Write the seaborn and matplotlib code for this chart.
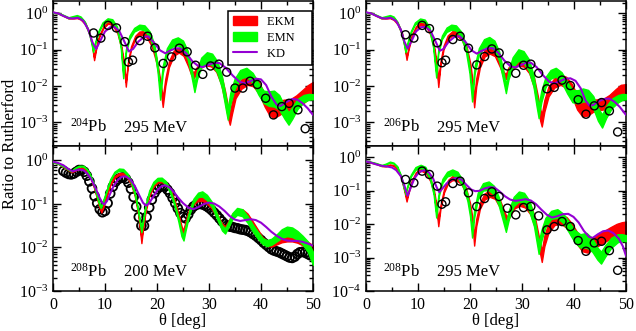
import numpy as np
import matplotlib
matplotlib.use("Agg")
import matplotlib.pyplot as plt
import seaborn as sns
from matplotlib.patches import Patch
from matplotlib.lines import Line2D
from matplotlib.ticker import LogLocator, MultipleLocator, NullFormatter, LogFormatterSciNotation

# ---------------- data (log10 of ratio to Rutherford) ----------------
# 204Pb 295 MeV (top left)
tl_ekm_theta = [0, 1, 2, 3, 4, 4.6, 5.3, 6.2, 7.0, 7.5, 7.9, 8.3, 8.9, 9.7, 10.6, 11.5, 12.4, 13.1, 13.6, 14.0,
                14.4, 15.0, 15.8, 16.6, 17.3, 18.1, 19.0, 19.9, 20.6, 21.1, 21.6, 22.3, 23.2, 24.2, 25.1, 26.0,
                26.6, 27.0, 27.5, 28.3, 29.3, 30.4, 31.4, 32.3, 33.1, 33.6, 34.0, 34.4, 35.1, 36.2, 37.4, 38.5,
                39.6, 40.7, 41.6, 42.4, 43.3, 44.4, 45.6, 46.8, 48.0, 49.0, 50.0]
tl_ekm_mid = [0.03, 0.01, -0.06, -0.13, -0.13, -0.12, -0.15, -0.28, -0.55, -0.85, -1.25, -0.95, -0.62, -0.38,
              -0.25, -0.30, -0.52, -0.90, -1.35, -1.95, -1.40, -0.95, -0.66, -0.55, -0.54, -0.62, -0.85, -1.30,
              -1.90, -2.45, -1.90, -1.40, -1.10, -1.01, -1.09, -1.38, -1.62, -1.72, -1.60, -1.42, -1.33, -1.34,
              -1.48, -1.80, -2.30, -2.70, -2.90, -2.62, -2.20, -1.95, -1.83, -1.86, -2.05, -2.40, -2.60, -2.66,
              -2.62, -2.55, -2.52, -2.43, -2.30, -2.18, -2.10]
tl_ekm_half = [0.01, 0.01, 0.01, 0.01, 0.01, 0.01, 0.015, 0.02, 0.025, 0.03, 0.04, 0.03, 0.025, 0.025, 0.03,
               0.03, 0.035, 0.04, 0.05, 0.07, 0.05, 0.04, 0.04, 0.05, 0.05, 0.06, 0.06, 0.07, 0.09, 0.13, 0.10,
               0.08, 0.07, 0.07, 0.08, 0.08, 0.08, 0.08, 0.08, 0.09, 0.10, 0.12, 0.13, 0.14, 0.15, 0.16, 0.17,
               0.16, 0.14, 0.13, 0.14, 0.15, 0.16, 0.17, 0.20, 0.22, 0.20, 0.17, 0.15, 0.17, 0.19, 0.20, 0.21]
tl_emn_theta = [0, 1, 2, 3, 3.8, 4.6, 5.3, 6.1, 6.9, 7.4, 7.7, 8.1, 8.7, 9.5, 10.5, 11.4, 12.3, 13.0, 13.5,
                14.0, 14.7, 15.6, 16.6, 17.6, 18.6, 19.5, 20.1, 20.6, 21.1, 21.9, 22.9, 24.0, 25.0, 25.9, 26.6,
                27.2, 27.7, 28.5, 29.6, 30.6, 31.6, 32.5, 33.2, 33.6, 34.1, 34.9, 36.0, 37.2, 38.4, 39.5, 40.5,
                41.5, 42.5, 43.5, 44.5, 45.3, 46.0, 47.0, 48.2, 49.2, 50.0]
tl_emn_mid = [0.03, 0.01, -0.05, -0.12, -0.09, -0.06, -0.10, -0.24, -0.52, -0.80, -1.03, -0.82, -0.52, -0.28,
              -0.17, -0.20, -0.40, -0.85, -1.72, -1.05, -0.66, -0.45, -0.37, -0.40, -0.58, -0.95, -1.50, -2.25,
              -1.55, -1.05, -0.82, -0.77, -0.87, -1.15, -1.60, -2.05, -1.70, -1.35, -1.22, -1.27, -1.48, -1.90,
              -2.45, -2.78, -2.35, -1.95, -1.68, -1.62, -1.78, -2.08, -2.30, -2.35, -2.35, -2.45, -2.72, -2.90,
              -2.75, -2.50, -2.35, -2.30, -2.30]
tl_emn_half = [0.01, 0.01, 0.01, 0.015, 0.015, 0.015, 0.015, 0.02, 0.025, 0.03, 0.035, 0.03, 0.025, 0.03,
               0.035, 0.04, 0.04, 0.05, 0.07, 0.05, 0.05, 0.05, 0.06, 0.07, 0.08, 0.09, 0.10, 0.13, 0.10, 0.09,
               0.10, 0.11, 0.12, 0.12, 0.12, 0.12, 0.12, 0.13, 0.15, 0.16, 0.16, 0.16, 0.17, 0.15, 0.16, 0.14,
               0.12, 0.12, 0.14, 0.16, 0.17, 0.20, 0.22, 0.20, 0.18, 0.17, 0.16, 0.14, 0.10, 0.08, 0.07]
tl_kd_theta = [0, 1, 2, 3, 3.8, 4.8, 5.8, 6.8, 7.6, 8.3, 9.0, 10.0, 11.0, 11.8, 12.8, 13.8, 14.6, 15.4, 16.4,
               17.4, 18.3, 19.4, 20.6, 21.6, 22.6, 23.6, 24.5, 25.6, 26.8, 28.0, 28.8, 29.8, 31.0, 32.0, 33.2,
               34.6, 35.8, 36.8, 37.8, 39.0, 40.0, 41.0, 42.0, 43.0, 43.8, 44.8, 46.0, 47.0, 48.0, 49.0, 50.0]
tl_kd_val = [0.03, 0.0, -0.07, -0.13, -0.14, -0.12, -0.20, -0.45, -0.80, -0.98, -0.78, -0.50, -0.38, -0.37,
             -0.50, -0.80, -1.05, -0.98, -0.78, -0.66, -0.63, -0.80, -1.02, -1.10, -1.02, -0.96, -0.97, -1.10,
             -1.32, -1.46, -1.48, -1.42, -1.36, -1.37, -1.50, -1.72, -1.88, -1.93, -1.88, -1.80, -1.82, -1.98,
             -2.30, -2.52, -2.55, -2.45, -2.36, -2.38, -2.48, -2.62, -2.80]
tl_data_theta = [7.8, 9.2, 10.6, 12.2, 13.8, 14.5, 15.3, 16.7, 18.2, 19.6, 21.2, 22.8, 24.3, 25.8, 27.4, 28.8,
                 30.3, 31.9, 33.4, 35.0, 36.5, 37.9, 39.3, 40.9, 42.4, 44.0, 45.4, 47.1, 48.5]
tl_data_val = [-0.54, -0.68, -0.33, -0.40, -0.78, -1.34, -1.29, -0.75, -0.63, -0.95, -1.38, -1.20, -0.96,
               -1.06, -1.43, -1.68, -1.45, -1.40, -1.62, -2.06, -2.06, -1.87, -1.96, -2.34, -2.80, -2.57, -2.48,
               -2.66, -3.18]

# 206Pb 295 MeV (top right)
tr_ekm_theta = [0, 1, 2, 3, 4, 4.6, 5.3, 6.1, 6.9, 7.4, 7.8, 8.2, 8.8, 9.6, 10.6, 11.5, 12.4, 13.1, 13.6, 13.9,
                14.3, 14.9, 15.7, 16.6, 17.5, 18.4, 19.3, 20.1, 20.5, 20.8, 21.2, 21.9, 22.8, 23.8, 24.8, 25.8,
                26.5, 26.9, 27.4, 28.3, 29.3, 30.4, 31.4, 32.3, 33.0, 33.5, 33.8, 34.3, 35.1, 36.2, 37.4, 38.5,
                39.6, 40.6, 41.6, 42.6, 43.6, 44.6, 45.7, 46.8, 48.0, 49.0, 50.0]
tr_ekm_mid = [0.03, 0.01, -0.06, -0.13, -0.13, -0.12, -0.16, -0.28, -0.55, -0.88, -1.24, -0.95, -0.62, -0.38,
              -0.27, -0.31, -0.55, -0.95, -1.45, -1.95, -1.40, -0.95, -0.66, -0.55, -0.55, -0.66, -0.95, -1.50,
              -2.00, -2.45, -1.90, -1.40, -1.10, -1.02, -1.08, -1.40, -1.70, -1.74, -1.58, -1.40, -1.33, -1.35,
              -1.52, -1.90, -2.40, -2.80, -2.95, -2.55, -2.15, -1.92, -1.83, -1.90, -2.12, -2.45, -2.62, -2.62,
              -2.55, -2.52, -2.50, -2.42, -2.28, -2.17, -2.12]
tr_ekm_half = [0.01, 0.01, 0.01, 0.01, 0.01, 0.01, 0.015, 0.02, 0.025, 0.03, 0.04, 0.03, 0.025, 0.025, 0.04,
               0.04, 0.04, 0.05, 0.06, 0.08, 0.06, 0.05, 0.05, 0.06, 0.07, 0.07, 0.07, 0.09, 0.11, 0.14, 0.11,
               0.09, 0.09, 0.09, 0.10, 0.09, 0.08, 0.07, 0.09, 0.10, 0.11, 0.12, 0.13, 0.14, 0.15, 0.16, 0.17,
               0.16, 0.14, 0.13, 0.14, 0.15, 0.17, 0.20, 0.22, 0.20, 0.17, 0.15, 0.15, 0.17, 0.19, 0.20, 0.17]
tr_emn_theta = [0, 1, 2, 3, 3.8, 4.6, 5.3, 6.0, 6.8, 7.3, 7.6, 8.0, 8.6, 9.4, 10.4, 11.3, 12.2, 12.9, 13.5,
                13.9, 14.6, 15.5, 16.4, 17.3, 18.3, 19.2, 19.9, 20.4, 20.9, 21.7, 22.7, 23.7, 24.7, 25.6, 26.3,
                26.9, 27.4, 28.2, 29.3, 30.3, 31.3, 32.2, 32.8, 33.2, 33.7, 34.5, 35.5, 36.5, 37.6, 38.7, 39.7,
                40.7, 41.7, 42.7, 43.7, 44.6, 45.4, 46.2, 47.3, 48.5, 49.4, 50.0]
tr_emn_mid = [0.03, 0.01, -0.05, -0.12, -0.09, -0.06, -0.10, -0.24, -0.52, -0.82, -1.04, -0.82, -0.52, -0.28,
              -0.18, -0.21, -0.42, -0.88, -1.70, -1.05, -0.66, -0.45, -0.38, -0.40, -0.58, -0.95, -1.55, -2.30,
              -1.55, -1.05, -0.82, -0.78, -0.88, -1.18, -1.65, -2.08, -1.70, -1.35, -1.15, -1.20, -1.42, -1.85,
              -2.40, -2.72, -2.30, -1.90, -1.68, -1.62, -1.76, -2.05, -2.28, -2.30, -2.25, -2.27, -2.45, -2.78,
              -2.97, -2.72, -2.48, -2.35, -2.30, -2.30]
tr_emn_half = [0.01, 0.01, 0.01, 0.015, 0.015, 0.015, 0.015, 0.02, 0.025, 0.03, 0.035, 0.03, 0.025, 0.03,
               0.04, 0.04, 0.045, 0.05, 0.07, 0.05, 0.05, 0.06, 0.07, 0.07, 0.08, 0.09, 0.10, 0.13, 0.10, 0.09,
               0.11, 0.13, 0.13, 0.13, 0.13, 0.12, 0.12, 0.14, 0.16, 0.16, 0.16, 0.16, 0.16, 0.17, 0.16, 0.14,
               0.12, 0.12, 0.14, 0.16, 0.17, 0.18, 0.18, 0.16, 0.17, 0.18, 0.18, 0.16, 0.13, 0.10, 0.08, 0.07]
tr_kd_theta = [0, 1, 2, 3, 3.8, 4.8, 5.8, 6.7, 7.4, 8.0, 8.7, 9.6, 10.6, 11.4, 12.4, 13.4, 14.2, 14.9, 15.9,
               17.0, 18.0, 19.1, 20.3, 21.3, 22.3, 23.4, 24.4, 25.4, 26.6, 27.8, 28.7, 29.7, 30.8, 31.7, 32.8,
               34.0, 35.2, 36.2, 37.3, 38.4, 39.3, 40.3, 41.3, 42.2, 43.0, 43.8, 44.8, 45.8, 46.8, 47.8, 48.8,
               50.0]
tr_kd_val = [0.03, 0.0, -0.07, -0.13, -0.14, -0.12, -0.21, -0.45, -0.78, -0.97, -0.78, -0.50, -0.38, -0.37,
             -0.48, -0.78, -1.03, -0.98, -0.78, -0.65, -0.63, -0.78, -1.02, -1.11, -1.03, -0.96, -0.96, -1.08,
             -1.30, -1.46, -1.49, -1.43, -1.36, -1.36, -1.48, -1.70, -1.88, -1.93, -1.87, -1.80, -1.79, -1.86,
             -2.07, -2.40, -2.55, -2.52, -2.42, -2.36, -2.35, -2.44, -2.58, -2.80]
tr_data_theta = [7.6, 9.2, 10.8, 12.2, 13.7, 14.6, 15.3, 16.7, 18.1, 19.7, 21.3, 22.8, 24.2, 25.6, 27.2, 28.8,
                 30.3, 31.7, 33.2, 34.8, 36.2, 37.7, 39.3, 40.8, 42.3, 43.9, 45.3, 46.8, 48.4]
tr_data_val = [-0.59, -0.68, -0.33, -0.42, -0.81, -1.36, -1.29, -0.72, -0.63, -0.96, -1.42, -1.19, -0.98,
               -1.09, -1.45, -1.65, -1.43, -1.40, -1.65, -2.08, -2.04, -1.84, -1.99, -2.38, -2.78, -2.55, -2.46,
               -2.69, -3.27]

# 208Pb 200 MeV (bottom left)
bl_ekm_theta = [0, 1, 2, 3, 3.6, 4.3, 5.0, 5.8, 6.5, 7.1, 7.8, 8.4, 8.9, 9.3, 9.7, 10.3, 11.0, 11.8, 12.7, 13.5,
                14.3, 15.0, 15.7, 16.3, 16.7, 17.0, 17.3, 17.8, 18.5, 19.3, 20.2, 21.0, 21.8, 22.6, 23.4, 24.2,
                24.7, 25.0, 25.4, 26.0, 26.8, 27.7, 28.6, 29.5, 30.5, 31.5, 32.4, 33.1, 33.7, 34.5, 35.4, 36.4,
                37.4, 38.4, 39.4, 40.3, 41.1, 42.0, 43.0, 44.0, 45.0, 46.0, 47.0, 48.0, 49.0, 50.0]
bl_ekm_mid = [-0.03, -0.07, -0.14, -0.22, -0.26, -0.22, -0.18, -0.17, -0.24, -0.36, -0.58, -0.83, -1.05, -1.17,
              -1.05, -0.82, -0.55, -0.38, -0.31, -0.31, -0.38, -0.52, -0.78, -1.15, -1.50, -1.85, -1.55, -1.15,
              -0.80, -0.58, -0.48, -0.47, -0.54, -0.70, -0.95, -1.30, -1.55, -1.66, -1.50, -1.22, -1.00, -0.90,
              -0.88, -0.93, -1.05, -1.25, -1.48, -1.56, -1.45, -1.27, -1.17, -1.17, -1.27, -1.45, -1.65, -1.82,
              -1.90, -1.92, -1.87, -1.82, -1.80, -1.80, -1.83, -1.88, -1.95, -2.05]
bl_ekm_half = [0.01, 0.01, 0.01, 0.01, 0.01, 0.01, 0.01, 0.01, 0.01, 0.015, 0.015, 0.02, 0.02, 0.025, 0.02,
               0.02, 0.02, 0.02, 0.02, 0.02, 0.02, 0.02, 0.025, 0.03, 0.04, 0.05, 0.04, 0.03, 0.025, 0.025,
               0.025, 0.03, 0.03, 0.03, 0.035, 0.04, 0.05, 0.05, 0.05, 0.04, 0.04, 0.04, 0.045, 0.05, 0.05,
               0.05, 0.05, 0.05, 0.05, 0.05, 0.05, 0.05, 0.05, 0.05, 0.06, 0.06, 0.06, 0.06, 0.06, 0.06, 0.06,
               0.06, 0.06, 0.07, 0.08, 0.10]
bl_emn_theta = [0, 1, 2, 3, 3.6, 4.3, 5.0, 5.8, 6.5, 7.1, 7.8, 8.4, 8.9, 9.2, 9.6, 10.3, 11.0, 11.8, 12.7, 13.5,
                14.3, 15.0, 15.7, 16.3, 16.7, 17.0, 17.3, 17.8, 18.5, 19.3, 20.1, 20.9, 21.7, 22.5, 23.3, 24.1,
                24.7, 25.1, 25.5, 26.2, 27.0, 27.9, 28.7, 29.6, 30.6, 31.6, 32.5, 33.1, 33.7, 34.5, 35.4, 36.4,
                37.4, 38.4, 39.4, 40.3, 41.1, 42.0, 43.0, 44.0, 45.0, 46.0, 47.0, 48.0, 49.0, 50.0]
bl_emn_mid = [-0.03, -0.07, -0.13, -0.21, -0.24, -0.17, -0.13, -0.13, -0.20, -0.32, -0.54, -0.80, -1.00, -1.07,
              -0.95, -0.70, -0.45, -0.28, -0.21, -0.22, -0.32, -0.48, -0.75, -1.10, -1.40, -1.60, -1.40, -1.05,
              -0.72, -0.52, -0.43, -0.43, -0.51, -0.70, -0.98, -1.35, -1.68, -1.78, -1.55, -1.20, -0.93, -0.79,
              -0.77, -0.85, -1.02, -1.30, -1.55, -1.62, -1.48, -1.28, -1.17, -1.20, -1.35, -1.55, -1.72, -1.85,
              -1.90, -1.87, -1.78, -1.68, -1.63, -1.65, -1.72, -1.83, -1.98, -2.25]
bl_emn_half = [0.01, 0.01, 0.01, 0.01, 0.01, 0.01, 0.01, 0.01, 0.01, 0.015, 0.015, 0.02, 0.02, 0.025, 0.02,
               0.02, 0.02, 0.02, 0.025, 0.025, 0.025, 0.025, 0.025, 0.03, 0.04, 0.05, 0.04, 0.03, 0.03, 0.03,
               0.03, 0.035, 0.035, 0.035, 0.04, 0.05, 0.06, 0.06, 0.06, 0.05, 0.05, 0.05, 0.06, 0.06, 0.06,
               0.06, 0.06, 0.06, 0.06, 0.07, 0.08, 0.08, 0.08, 0.08, 0.08, 0.07, 0.07, 0.07, 0.08, 0.10, 0.11,
               0.11, 0.10, 0.10, 0.12, 0.15]
bl_kd_theta = [0, 1, 2, 3, 3.8, 4.8, 5.8, 6.6, 7.4, 8.2, 8.9, 9.5, 9.9, 10.4, 11.0, 11.7, 12.5, 13.3, 14.1,
               14.9, 15.7, 16.5, 17.3, 17.9, 18.5, 19.3, 20.1, 20.9, 21.6, 22.4, 23.2, 24.1, 25.0, 26.0, 27.0,
               28.0, 29.0, 30.0, 31.0, 32.0, 33.0, 34.0, 35.0, 36.0, 37.0, 38.0, 39.0, 40.0, 41.0, 42.0, 43.0,
               44.0, 45.0, 46.0, 47.0, 48.0, 49.0, 50.0]
bl_kd_val = [-0.03, -0.06, -0.11, -0.20, -0.25, -0.21, -0.22, -0.30, -0.44, -0.64, -0.84, -0.98, -1.01, -0.93,
             -0.76, -0.58, -0.44, -0.37, -0.37, -0.44, -0.58, -0.78, -0.97, -1.04, -0.98, -0.83, -0.68, -0.59,
             -0.57, -0.62, -0.72, -0.86, -0.98, -1.08, -1.12, -1.07, -1.00, -0.97, -0.99, -1.06, -1.16, -1.28,
             -1.36, -1.39, -1.37, -1.35, -1.37, -1.43, -1.53, -1.64, -1.73, -1.80, -1.84, -1.85, -1.85, -1.87,
             -1.91, -1.96]
bl_data_theta = [2.0, 2.5, 3.0, 3.5, 4.0, 4.5, 5.0, 5.5, 6.0, 6.5, 7.0, 7.5, 8.0, 8.5, 9.0, 9.5, 10.0, 10.5,
                 11.0, 11.5, 12.0, 12.5, 13.0, 13.5, 14.0, 14.5, 15.0, 15.5, 16.0, 16.5, 17.0, 17.5, 18.0, 18.5,
                 19.0, 19.5, 20.0, 20.5, 21.0, 21.5, 22.0, 22.5, 23.0, 23.5, 24.0, 24.5, 25.0, 25.5, 26.0, 26.5,
                 27.0, 27.5, 28.0, 28.5, 29.0, 29.5, 30.0, 30.5, 31.0, 31.5, 32.0, 32.5, 33.0, 33.5, 34.0, 34.5,
                 35.0, 35.5, 36.0, 36.5, 37.0, 37.5, 38.0, 38.5, 39.0, 39.5, 40.0, 40.5, 41.0, 41.5, 42.0, 42.5,
                 43.0, 43.5, 44.0, 44.5, 45.0, 45.5, 46.0, 46.5, 47.0, 47.5, 48.0, 48.5, 49.0, 49.5, 50.0]
bl_data_val = [-0.24, -0.28, -0.31, -0.32, -0.30, -0.26, -0.22, -0.22, -0.26, -0.35, -0.48, -0.64, -0.82, -0.98,
               -1.12, -1.19, -1.16, -0.98, -0.76, -0.60, -0.49, -0.43, -0.40, -0.39, -0.42, -0.51, -0.65, -0.84,
               -1.06, -1.30, -1.50, -1.50, -1.30, -1.08, -0.90, -0.75, -0.66, -0.61, -0.59, -0.60, -0.67, -0.75,
               -0.86, -0.98, -1.10, -1.21, -1.30, -1.33, -1.24, -1.13, -1.06, -1.02, -1.00, -1.00, -1.02, -1.05,
               -1.09, -1.14, -1.20, -1.26, -1.33, -1.40, -1.46, -1.50, -1.52, -1.53, -1.55, -1.56, -1.58, -1.59,
               -1.60, -1.62, -1.65, -1.69, -1.73, -1.78, -1.83, -1.89, -1.94, -1.99, -2.04, -2.07, -2.09, -2.11,
               -2.14, -2.17, -2.20, -2.23, -2.24, -2.21, -2.15, -2.11, -2.10, -2.12, -2.15, -2.18, -2.16]

# 208Pb 295 MeV (bottom right)
br_ekm_theta = [0, 1, 2, 3, 3.8, 4.6, 5.3, 6.1, 6.8, 7.4, 7.8, 8.2, 8.8, 9.6, 10.6, 11.5, 12.4, 13.1, 13.6,
                13.9, 14.3, 15.0, 15.8, 16.6, 17.4, 18.3, 19.2, 20.0, 20.5, 20.8, 21.2, 21.9, 22.8, 23.8, 24.8,
                25.8, 26.6, 27.1, 27.7, 28.6, 29.6, 30.6, 31.6, 32.5, 33.2, 33.8, 34.3, 35.1, 36.3, 37.5, 38.6,
                39.6, 40.6, 41.6, 42.6, 43.6, 44.6, 45.8, 47.0, 48.2, 49.2, 50.0]
br_ekm_mid = [-0.12, -0.15, -0.19, -0.25, -0.26, -0.22, -0.24, -0.36, -0.62, -1.00, -1.28, -1.02, -0.72, -0.47,
              -0.37, -0.43, -0.68, -1.05, -1.55, -1.98, -1.50, -1.00, -0.72, -0.62, -0.62, -0.72, -0.98, -1.45,
              -1.95, -2.50, -1.95, -1.45, -1.17, -1.08, -1.13, -1.40, -1.72, -1.87, -1.65, -1.40, -1.31, -1.35,
              -1.55, -1.95, -2.50, -2.96, -2.50, -2.10, -1.88, -1.84, -1.95, -2.15, -2.42, -2.62, -2.66, -2.58,
              -2.48, -2.37, -2.26, -2.17, -2.12, -2.10]
br_ekm_half = [0.01, 0.01, 0.01, 0.01, 0.01, 0.01, 0.01, 0.015, 0.02, 0.03, 0.04, 0.03, 0.03, 0.03, 0.03,
               0.035, 0.04, 0.05, 0.06, 0.08, 0.06, 0.05, 0.05, 0.06, 0.07, 0.07, 0.08, 0.09, 0.11, 0.14, 0.11,
               0.09, 0.09, 0.10, 0.11, 0.11, 0.10, 0.08, 0.10, 0.12, 0.14, 0.15, 0.15, 0.15, 0.16, 0.17, 0.16,
               0.15, 0.14, 0.15, 0.16, 0.17, 0.18, 0.19, 0.19, 0.18, 0.17, 0.17, 0.17, 0.18, 0.18, 0.18]
br_emn_theta = [0, 1, 2, 3, 3.8, 4.6, 5.3, 6.0, 6.7, 7.2, 7.6, 8.0, 8.6, 9.5, 10.5, 11.4, 12.3, 13.0, 13.5,
                14.0, 14.7, 15.6, 16.6, 17.6, 18.6, 19.5, 20.0, 20.4, 20.8, 21.5, 22.5, 23.6, 24.6, 25.5, 26.3,
                26.9, 27.5, 28.4, 29.4, 30.4, 31.4, 32.3, 32.8, 33.2, 33.7, 34.5, 35.6, 36.8, 37.9, 39.0, 40.1,
                41.2, 42.4, 43.5, 44.5, 45.2, 46.0, 47.2, 48.4, 49.3, 50.0]
br_emn_mid = [-0.11, -0.14, -0.18, -0.24, -0.20, -0.14, -0.17, -0.28, -0.55, -0.85, -1.07, -0.85, -0.55, -0.33,
              -0.27, -0.33, -0.60, -1.05, -1.72, -1.10, -0.70, -0.50, -0.44, -0.52, -0.77, -1.20, -1.65, -2.28,
              -1.70, -1.15, -0.88, -0.85, -0.98, -1.30, -1.75, -2.10, -1.70, -1.32, -1.17, -1.22, -1.45, -1.90,
              -2.35, -2.72, -2.35, -1.95, -1.72, -1.68, -1.82, -2.08, -2.35, -2.50, -2.48, -2.62, -2.88, -3.00,
              -2.80, -2.55, -2.42, -2.40, -2.42]
br_emn_half = [0.01, 0.01, 0.01, 0.015, 0.015, 0.015, 0.015, 0.02, 0.025, 0.03, 0.035, 0.03, 0.03, 0.04,
               0.05, 0.05, 0.05, 0.06, 0.08, 0.06, 0.06, 0.07, 0.08, 0.09, 0.09, 0.10, 0.11, 0.12, 0.11, 0.10,
               0.11, 0.13, 0.13, 0.13, 0.13, 0.13, 0.13, 0.14, 0.15, 0.16, 0.16, 0.16, 0.17, 0.17, 0.16, 0.14,
               0.12, 0.13, 0.14, 0.16, 0.18, 0.20, 0.22, 0.20, 0.18, 0.18, 0.17, 0.15, 0.12, 0.10, 0.09]
br_kd_theta = [0, 1, 2, 3, 4, 5, 5.8, 6.7, 7.4, 8.0, 8.6, 9.3, 10.2, 11.2, 12.1, 12.9, 13.6, 14.1, 14.7, 15.5,
               16.5, 17.5, 18.4, 19.3, 20.2, 21.0, 21.8, 22.8, 23.8, 24.7, 25.7, 26.7, 27.7, 28.7, 29.7, 30.7,
               31.7, 32.7, 33.7, 34.8, 35.8, 36.8, 37.8, 38.9, 39.9, 40.9, 41.9, 42.9, 43.6, 44.6, 45.6, 46.6,
               47.6, 48.6, 49.4, 50.0]
br_kd_val = [-0.12, -0.16, -0.21, -0.25, -0.27, -0.30, -0.38, -0.56, -0.85, -1.15, -0.90, -0.63, -0.44, -0.38,
             -0.45, -0.63, -0.90, -1.04, -0.93, -0.78, -0.66, -0.61, -0.67, -0.82, -0.96, -1.01, -1.00, -0.93,
             -0.89, -0.90, -1.02, -1.16, -1.26, -1.30, -1.28, -1.25, -1.29, -1.40, -1.56, -1.72, -1.80, -1.76,
             -1.70, -1.69, -1.78, -1.95, -2.20, -2.38, -2.41, -2.30, -2.21, -2.19, -2.27, -2.43, -2.66, -2.95]
br_data_theta = [7.6, 9.2, 10.8, 12.2, 13.7, 14.6, 15.3, 16.7, 18.1, 19.7, 21.3, 22.8, 24.2, 25.6, 27.2, 28.8,
                 30.3, 31.7, 33.2, 34.8, 36.2, 37.7, 39.3, 40.8, 42.3, 43.9, 45.3, 46.8, 48.4]
br_data_val = [-0.66, -0.76, -0.41, -0.51, -0.86, -1.40, -1.33, -0.78, -0.71, -1.06, -1.47, -1.23, -1.03,
               -1.17, -1.52, -1.72, -1.50, -1.47, -1.75, -2.17, -2.07, -1.92, -2.07, -2.49, -2.81, -2.56, -2.51,
               -2.79, -3.38]

labels_nucleus = ["204", "206", "208", "208"]
labels_energy = ["295 MeV", "295 MeV", "200 MeV", "295 MeV"]
legend_labels = ["EKM", "EMN", "KD"]
ylims = [(2.2e-4, 2.2), (2.2e-4, 2.2), (1e-3, 2.15), (1e-4, 2.2)]

# ---------------- style ----------------
sns.set_theme(style="ticks")
plt.rcParams.update({
    "font.family": ["Liberation Serif", "DejaVu Serif"],
    "mathtext.fontset": "custom",
    "mathtext.rm": "Liberation Serif",
    "mathtext.it": "Liberation Serif:italic",
    "mathtext.bf": "Liberation Serif:bold",
    "axes.edgecolor": "black",
    "axes.labelcolor": "black",
    "xtick.color": "black",
    "ytick.color": "black",
    "text.color": "black",
    "axes.linewidth": 1.1,
})

RED = "#ff0000"
GREEN = "#00ff00"
VIOLET = "#9400d3"

fig = plt.figure(figsize=(6.36, 3.31), dpi=100)
W, H = 636.0, 331.0
pos = [(53, 1), (366, 1), (53, 146), (366, 146)]
axes = []
for (x0, ytop) in pos:
    axes.append(fig.add_axes([x0 / W, (H - ytop - 145) / H, 260 / W, 145 / H]))

panels = [
    (tl_ekm_theta, tl_ekm_mid, tl_ekm_half, tl_emn_theta, tl_emn_mid, tl_emn_half,
     tl_kd_theta, tl_kd_val, tl_data_theta, tl_data_val),
    (tr_ekm_theta, tr_ekm_mid, tr_ekm_half, tr_emn_theta, tr_emn_mid, tr_emn_half,
     tr_kd_theta, tr_kd_val, tr_data_theta, tr_data_val),
    (bl_ekm_theta, bl_ekm_mid, bl_ekm_half, bl_emn_theta, bl_emn_mid, bl_emn_half,
     bl_kd_theta, bl_kd_val, bl_data_theta, bl_data_val),
    (br_ekm_theta, br_ekm_mid, br_ekm_half, br_emn_theta, br_emn_mid, br_emn_half,
     br_kd_theta, br_kd_val, br_data_theta, br_data_val),
]


def band(ax, th, mid, half, color, z):
    th = np.asarray(th, float)
    mid = np.asarray(mid, float)
    half = np.asarray(half, float)
    ax.fill_between(th, 10 ** (mid - half), 10 ** (mid + half), color=color,
                    linewidth=1.0, edgecolor=color, zorder=z)


for i, ax in enumerate(axes):
    (e_th, e_mid, e_half, m_th, m_mid, m_half, k_th, k_val, d_th, d_val) = panels[i]
    ax.set_yscale("log")
    dense = (i == 2)
    sns.scatterplot(x=np.asarray(d_th, float), y=10 ** np.asarray(d_val, float), ax=ax,
                    marker="o", s=40 if dense else 34, facecolors="none", edgecolor="black",
                    linewidth=1.3 if dense else 1.0, zorder=1 if dense else 6, legend=False)
    band(ax, e_th, e_mid, e_half, RED, 2)
    band(ax, m_th, m_mid, m_half, GREEN, 3)
    sns.lineplot(x=np.asarray(k_th, float), y=10 ** np.asarray(k_val, float), ax=ax,
                 color=VIOLET, linewidth=1.5, estimator=None, sort=False, zorder=4)

    ax.set_xlim(0, 50)
    ax.set_ylim(*ylims[i])
    ax.xaxis.set_major_locator(MultipleLocator(10))
    ax.xaxis.set_minor_locator(MultipleLocator(5))
    ax.yaxis.set_major_locator(LogLocator(base=10, numticks=15))
    ax.yaxis.set_minor_locator(LogLocator(base=10, subs=np.arange(2, 10), numticks=15))
    ax.yaxis.set_major_formatter(LogFormatterSciNotation())
    ax.yaxis.set_minor_formatter(NullFormatter())
    ax.tick_params(which="both", direction="in", top=True, right=True, width=1.0,
                   labelsize=11.5, colors="black")
    ax.tick_params(which="major", length=6)
    ax.tick_params(which="minor", length=3)
    ax.tick_params(axis="x", pad=4)
    ax.tick_params(axis="y", pad=3.5)
    ax.set_xlabel("")
    ax.set_ylabel("")
    if i < 2:
        ax.tick_params(labelbottom=False)
    else:
        ax.set_xlabel("θ [deg]", fontsize=12, labelpad=0)
    for s in ax.spines.values():
        s.set_linewidth(1.1)
        s.set_color("black")

    ax.text(0.065, 0.1, "$^{%s}$Pb" % labels_nucleus[i], transform=ax.transAxes,
            fontsize=12, ha="left", va="baseline")
    ax.text(0.272, 0.1, labels_energy[i], transform=ax.transAxes,
            fontsize=12, ha="left", va="baseline")

handles = [Patch(facecolor=RED, edgecolor=RED), Patch(facecolor=GREEN, edgecolor=GREEN),
           Line2D([], [], color=VIOLET, linewidth=1.5)]
leg = axes[0].legend(handles, [l + "    " for l in legend_labels], loc="upper right",
                     bbox_to_anchor=(0.995, 0.93), fontsize=9, frameon=True, fancybox=False,
                     edgecolor="black", framealpha=1, handlelength=1.9, handleheight=0.7,
                     handletextpad=0.8, labelspacing=0.3, borderpad=0.4, borderaxespad=0)
leg.get_frame().set_linewidth(1.1)

fig.text(0.016, 0.565, "Ratio to Rutherford", rotation=90, ha="center", va="center", fontsize=12)

fig.savefig("out.png", dpi=100)
